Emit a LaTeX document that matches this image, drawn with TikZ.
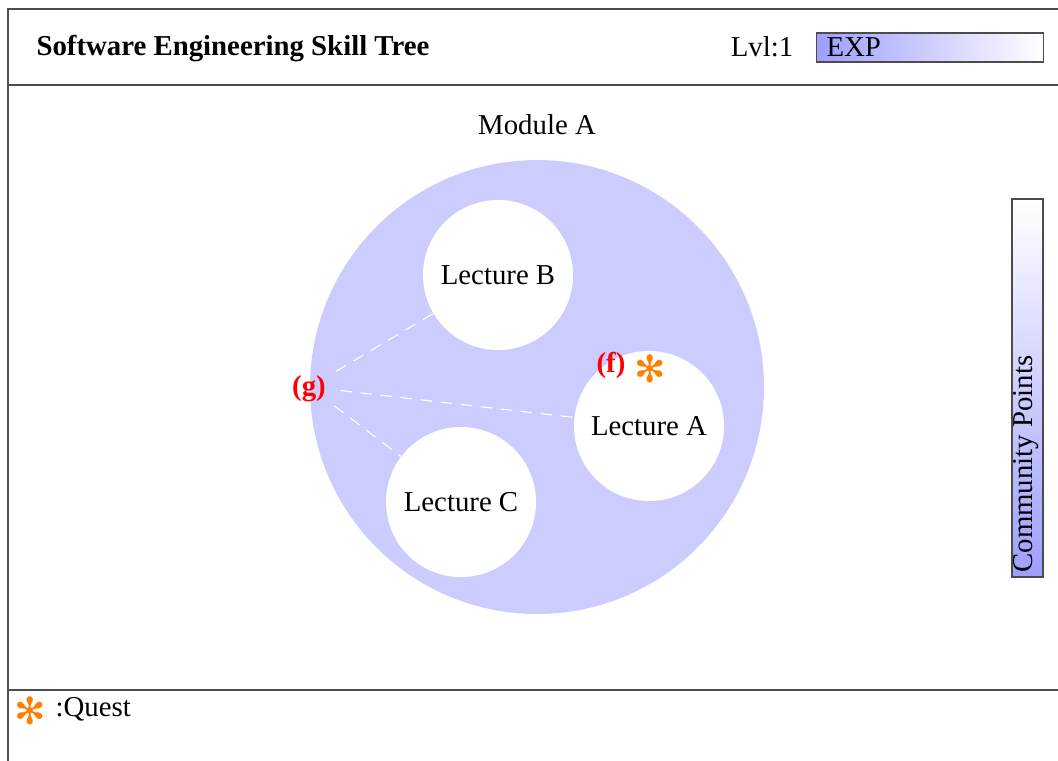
\documentclass[tikz,border=0pt]{standalone}
\usepackage{fontspec}
\setmainfont{Liberation Serif}
\newfontfamily\symfont{DejaVu Sans}
\usetikzlibrary{shadings}
\begin{document}
\begin{tikzpicture}[x=0.3472pt,y=-0.3472pt,
  frame/.style={draw=black!70,line width=0.5pt},
  module/.style={circle,fill=blue!20,minimum size=157.6pt,inner sep=0pt},
  lecture/.style={circle,fill=white,minimum size=52.1pt,inner sep=0pt},
  link/.style={draw=white,dash pattern=on 4pt off 3pt,line width=0.4pt,shorten <=10.8pt},
  tag/.style={text=red,font=\bfseries,inner sep=0pt},
  quest/.style={text=orange,font=\symfont\fontsize{13}{13}\selectfont,inner sep=0pt},
  barbox/.style={draw=black!70,line width=0.5pt,inner sep=0pt}]
\useasboundingbox (0,0) rectangle (1058,760);
% frame
\draw[frame] (8,770) -- (8,9) -- (1070,9);
\draw[frame] (8,85) -- (1070,85);
\draw[frame] (8,690) -- (1070,690);
% header
\node[anchor=base west,font=\bfseries,inner sep=0pt] (title) at (36,55) {Software Engineering Skill Tree};
\node[anchor=base,inner sep=0pt] (lvl) at (762,56) {Lvl:1};
\node[barbox,left color=blue!38,right color=white,minimum width=78.8pt,minimum height=10.07pt,anchor=west] (exp) at (816,47.5) {};
\node[anchor=base west,inner sep=0pt] (explbl) at (826,56) {EXP};
% community points bar
\node[barbox,bottom color=blue!38,top color=white,minimum width=10.76pt,minimum height=131.2pt] (cp) at (1027.5,388) {};
\node[rotate=90,anchor=west,inner sep=0pt] (cplbl) at (1026.5,573) {Community Points};
% module
\node[inner sep=0pt] (modlbl) at (537,125) {Module A};
\node[module] (modA) at (537,387) {};
\node[lecture] (lecB) at (498,275) {Lecture B};
\node[lecture] (lecA) at (649,426) {Lecture A};
\node[lecture] (lecC) at (461,502) {Lecture C};
\coordinate (gpt) at (modA.west);
\draw[link] (gpt) -- (lecB);
\draw[link] (gpt) -- (lecA);
\draw[link] (gpt) -- (lecC);
\node[tag] (g) at (309,389) {(g)};
\node[tag] (f) at (611,365) {(f)};
\node[quest] (qA) at (650,369) {✻};
% legend
\node[quest] (qleg) at (30,711) {✻};
\node[anchor=base west,inner sep=0pt] (qtxt) at (55,716) {:Quest};
\end{tikzpicture}
\end{document}
